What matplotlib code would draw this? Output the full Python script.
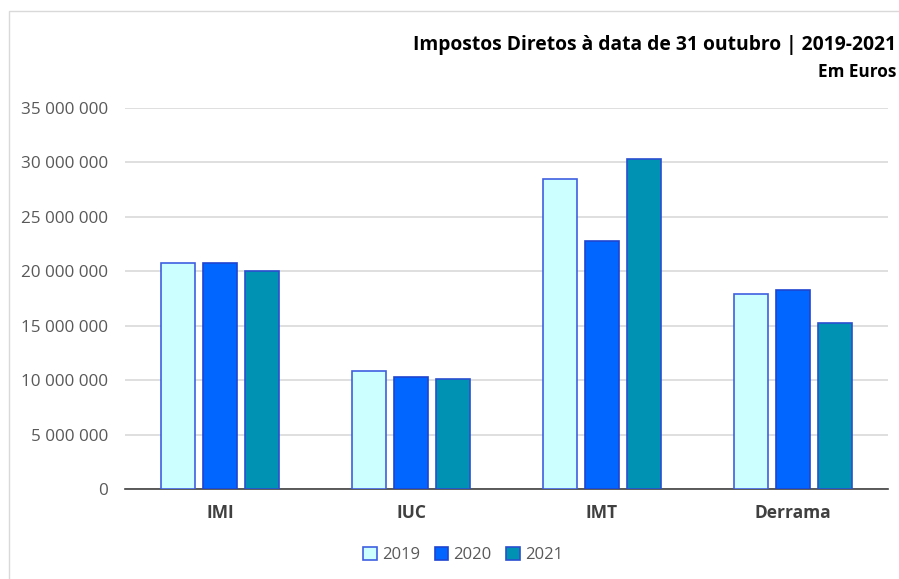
import matplotlib.pyplot as plt
from matplotlib.patches import Rectangle
from matplotlib.ticker import FuncFormatter
import numpy as np

categorias = ['IMI', 'IUC', 'IMT', 'Derrama']
anos = ['2019', '2020', '2021']
v2019 = [20750000, 10850000, 28500000, 17900000]
v2020 = [20750000, 10250000, 22750000, 18300000]
v2021 = [20050000, 10150000, 30300000, 15250000]
cores = ['#CCFFFF', '#0066FF', '#0092B2']
bordas = ['#3F5FE0', '#1F45D0', '#2A4FD0']

plt.rcParams['font.family'] = ['Open Sans', 'DejaVu Sans']

fig = plt.figure(figsize=(8.99, 5.79), dpi=100)
ax = fig.add_axes([125/899, 1 - 489/579, 763/899, 381/579])

x = np.arange(len(categorias))
largura = 0.178
passo = 0.22
series = [v2019, v2020, v2021]
for i in range(3):
    ax.bar(x + (i - 1)*passo, series[i], width=largura, color=cores[i],
           edgecolor=bordas[i], linewidth=1.2, label=anos[i], zorder=3)

ax.set_xlim(-0.5, 3.5)
ax.set_ylim(0, 35000000)
ax.set_yticks(np.arange(0, 35000001, 5000000))
ax.yaxis.set_major_formatter(FuncFormatter(lambda v, p: '{:,.0f}'.format(v).replace(',', ' ')))
ax.grid(axis='y', color='#D9D9D9', linewidth=1.2, zorder=0)
ax.set_axisbelow(True)
for s in ['top', 'right', 'left']:
    ax.spines[s].set_visible(False)
ax.spines['bottom'].set_color('#404040')
ax.spines['bottom'].set_linewidth(1.2)
ax.tick_params(axis='y', length=0, pad=12, labelsize=12.3, labelcolor='#595959')
ax.tick_params(axis='x', length=0, pad=11, labelsize=12.5, labelcolor='#404040')
ax.set_xticks(x)
ax.set_xticklabels(categorias, fontweight='bold')

fig.text(896/899, 1 - 45/579, 'Impostos Diretos à data de 31 outubro | 2019-2021',
         fontsize=13.9, fontweight='bold', ha='right', va='center', color='black')
fig.text(896/899, 1 - 72/579, 'Em Euros', fontsize=12.3, fontweight='bold',
         ha='right', va='center', color='black')

fig.legend(loc='center', bbox_to_anchor=(463/899, 1 - 555/579), ncol=3, frameon=False,
           fontsize=12, handlelength=0.8, handleheight=0.8, handletextpad=0.3,
           columnspacing=0.9, labelcolor='#595959')

fig.patches.append(Rectangle((9/899, -0.1), 1.2, 1 - 11/579 + 0.1, transform=fig.transFigure,
                             fill=False, edgecolor='#D9D9D9', linewidth=1))

fig.savefig('out.png', dpi=100)
